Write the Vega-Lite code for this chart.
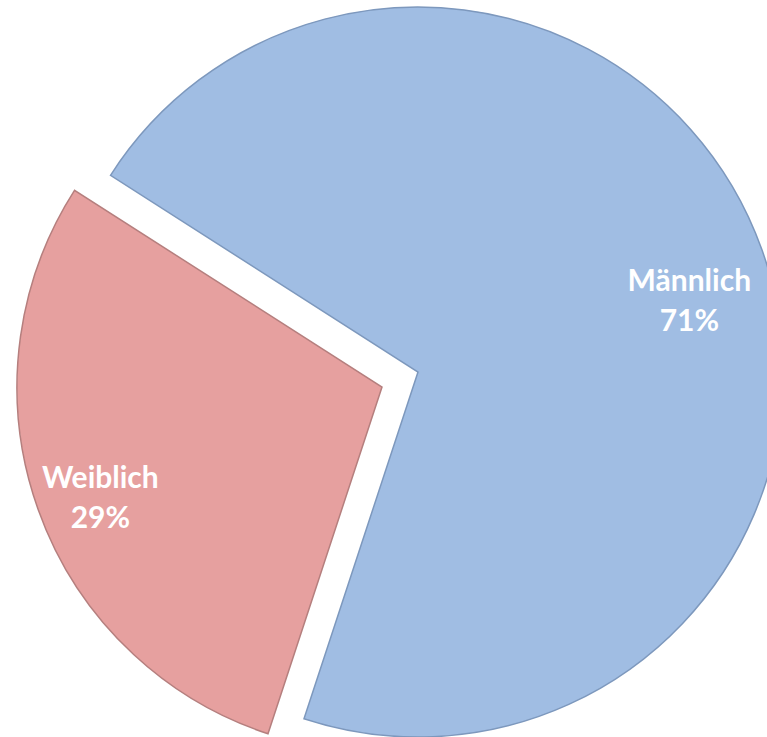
{
  "$schema": "https://vega.github.io/schema/vega-lite/v6.json",
  "width": 767,
  "height": 737,
  "autosize": {"type": "fit", "contains": "padding"},
  "padding": 0,
  "background": "white",
  "config": {"view": {"stroke": null}},
  "data": {
    "values": [
      {"sex": "Männlich", "pct": 71, "label": "Männlich\n71%"},
      {"sex": "Weiblich", "pct": 29, "label": "Weiblich\n29%"}
    ]
  },
  "encoding": {
    "theta": {"field": "pct", "type": "quantitative", "stack": true, "scale": {"range": [-1.0018, 5.2814]}},
    "color": {"field": "sex", "type": "nominal", "scale": {"domain": ["Männlich", "Weiblich"], "range": ["#A0BDE3", "#E6A09F"]}, "legend": null}
  },
  "layer": [
    {
      "mark": {"type": "arc", "outerRadius": 365, "x": 418, "y": 372, "stroke": "#7D98BD", "strokeWidth": 1.5},
      "encoding": {
        "opacity": {"condition": {"test": "datum.sex === 'Männlich'", "value": 1}, "value": 0}
      }
    },
    {
      "mark": {"type": "arc", "outerRadius": 365, "x": 382, "y": 387, "stroke": "#B57F7E", "strokeWidth": 1.5},
      "encoding": {
        "opacity": {"condition": {"test": "datum.sex === 'Weiblich'", "value": 1}, "value": 0}
      }
    },
    {
      "mark": {"type": "text", "radius": 288, "x": 418, "y": 372, "dy": 7, "font": "Lato", "fontWeight": "bold", "fontSize": 30, "lineHeight": 40, "lineBreak": "\n", "align": "center", "baseline": "middle", "color": "white"},
      "encoding": {
        "text": {"field": "label"},
        "color": {"value": "white"},
        "opacity": {"condition": {"test": "datum.sex === 'Männlich'", "value": 1}, "value": 0}
      }
    },
    {
      "mark": {"type": "text", "radius": 299, "x": 382, "y": 387, "dy": -8, "font": "Lato", "fontWeight": "bold", "fontSize": 30, "lineHeight": 40, "lineBreak": "\n", "align": "center", "baseline": "middle", "color": "white"},
      "encoding": {
        "text": {"field": "label"},
        "color": {"value": "white"},
        "opacity": {"condition": {"test": "datum.sex === 'Weiblich'", "value": 1}, "value": 0}
      }
    }
  ]
}
